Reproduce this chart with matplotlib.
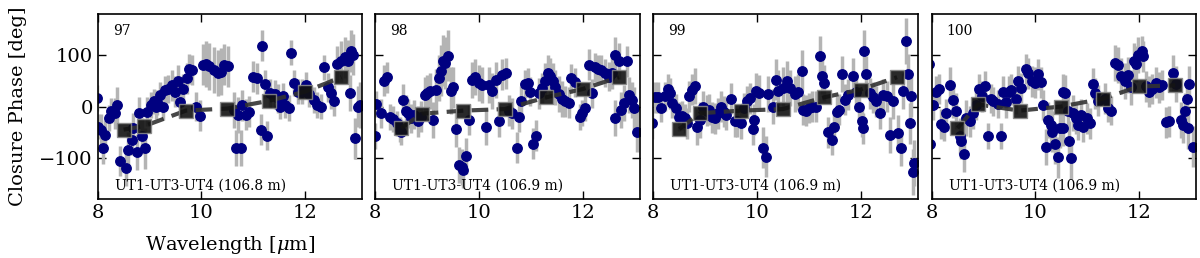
import matplotlib as mpl
mpl.use("Agg")
import matplotlib.pyplot as plt

# closure phases (deg) vs wavelength (um)
wave_97 = [7.98, 8.01, 8.06, 8.11, 8.15, 8.22, 8.26, 8.33, 8.38, 8.43,
           8.54, 8.59, 8.66, 8.69, 8.75, 8.80, 8.85, 8.91, 8.96, 9.03,
           9.08, 9.12, 9.15, 9.20, 9.26, 9.30, 9.36, 9.44, 9.50, 9.54,
           9.59, 9.65, 9.72, 9.77, 9.81, 9.90, 9.98, 10.03, 10.09, 10.15,
           10.24, 10.32, 10.38, 10.44, 10.51, 10.63, 10.70, 10.66, 10.76, 10.79,
           10.86, 10.92, 10.99, 11.07, 11.14, 11.17, 11.23, 11.27, 11.33, 11.41,
           11.47, 11.52, 11.57, 11.61, 11.68, 11.73, 11.78, 11.86, 11.94, 12.02,
           12.08, 12.17, 12.23, 12.30, 12.37, 12.44, 12.50, 12.55, 12.62, 12.70,
           12.76, 12.83, 12.88, 12.92, 12.86, 12.97, 13.01, 13.05]
cp_97 = [17, -39, -45, -81, -55, -23, -8, -13, 3, -106,
         -119, -84, -65, -42, -88, -12, -58, -81, -10, 3,
         10, 0, 8, 23, -1, 32, 34, 41, 29, 50,
         8, 34, 55, 73, 71, 0, -18, 81, 82, 78,
         71, 65, 68, 81, 78, -6, -16, -80, -80, 2,
         -16, -10, 58, 55, -45, 118, 44, -57, 26, 24,
         16, 0, 20, 3, -3, 105, 46, 29, 29, 42,
         24, 13, 3, 0, 76, 37, 26, 11, 83, 88,
         96, 89, 108, 101, 26, -62, 0, 3]
err_97 = [25, 25, 30, 30, 28, 25, 25, 30, 35, 30,
          35, 35, 30, 30, 35, 30, 35, 40, 28, 25,
          25, 25, 25, 25, 25, 28, 28, 30, 30, 30,
          30, 30, 30, 30, 30, 28, 30, 40, 45, 45,
          45, 45, 45, 40, 40, 35, 35, 35, 35, 30,
          30, 30, 30, 30, 30, 30, 28, 28, 28, 28,
          28, 25, 25, 25, 25, 25, 25, 25, 25, 25,
          25, 25, 25, 25, 25, 28, 30, 30, 35, 40,
          40, 40, 40, 40, 35, 40, 40, 45]

wave_98 = [8.01, 7.99, 8.11, 8.17, 8.23, 8.28, 8.35, 8.41, 8.48, 8.50,
           8.54, 8.59, 8.64, 8.69, 8.75, 8.83, 8.88, 8.95, 8.99, 9.06,
           9.11, 9.17, 9.22, 9.27, 9.30, 9.35, 9.40, 9.45, 9.50, 9.55,
           9.62, 9.67, 9.70, 9.75, 9.80, 9.86, 9.93, 9.99, 10.06, 10.14,
           10.19, 10.25, 10.32, 10.38, 10.45, 10.52, 10.57, 10.63, 10.73, 10.77,
           10.81, 10.88, 10.94, 10.99, 11.05, 11.10, 11.15, 11.21, 11.28, 11.33,
           11.37, 11.42, 11.47, 11.54, 11.60, 11.66, 11.73, 11.78, 11.86, 11.94,
           11.99, 12.05, 12.12, 12.18, 12.23, 12.30, 12.36, 12.43, 12.50, 12.57,
           12.63, 12.70, 12.62, 12.73, 12.79, 12.86, 12.90, 12.95, 12.99, 13.04]
cp_98 = [5, -57, -13, 50, 57, -20, -24, -33, -45, -49,
         13, -8, -13, -23, -16, -29, -20, 23, 26, 31,
         -26, 33, 55, 70, 89, 85, 99, 31, 37, -44,
         -114, -117, -124, -96, -26, 52, 58, 45, 42, -39,
         41, 31, 52, -29, 62, 65, -8, -13, -80, -21,
         11, 44, 46, 29, -72, -57, 26, 36, 50, 65,
         59, 49, 37, 24, 15, 10, 7, 55, 47, -21,
         -13, -3, 81, 26, 76, 73, 72, 65, 58, 65,
         101, 89, -23, -6, 7, 88, 23, 13, -3, -49]
err_98 = [25, 25, 28, 30, 30, 25, 25, 25, 25, 25,
          30, 30, 28, 28, 28, 30, 30, 35, 35, 35,
          35, 40, 45, 50, 50, 50, 50, 45, 40, 35,
          35, 35, 35, 35, 30, 35, 35, 35, 35, 35,
          35, 35, 35, 30, 30, 30, 30, 30, 30, 28,
          28, 28, 28, 28, 30, 30, 30, 30, 35, 35,
          35, 35, 35, 35, 35, 30, 30, 28, 28, 25,
          25, 25, 30, 28, 28, 28, 28, 28, 28, 30,
          35, 35, 35, 35, 35, 30, 35, 35, 40, 40]

wave_99 = [7.98, 8.03, 8.09, 8.15, 8.22, 8.28, 8.33, 8.37, 8.43, 8.50,
           8.55, 8.61, 8.65, 8.69, 8.74, 8.80, 8.85, 8.91, 8.96, 9.03,
           9.08, 9.14, 9.19, 9.25, 9.30, 9.36, 9.41, 9.50, 9.57, 9.62,
           9.70, 9.75, 9.80, 9.86, 9.92, 9.94, 9.98, 10.04, 10.12, 10.17,
           10.22, 10.30, 10.37, 10.41, 10.50, 10.57, 10.63, 10.73, 10.79, 10.86,
           10.89, 10.94, 11.00, 11.06, 11.14, 11.21, 11.26, 11.30, 11.37, 11.44,
           11.48, 11.54, 11.59, 11.63, 11.70, 11.76, 11.85, 11.91, 11.97, 12.02,
           12.04, 12.06, 12.10, 12.17, 12.23, 12.30, 12.37, 12.43, 12.50, 12.57,
           12.63, 12.71, 12.77, 12.82, 12.88, 12.92, 12.97, 12.95, 13.02, 13.01]
cp_99 = [-33, 18, 18, -2, 20, 34, 26, 7, -3, -20,
         -18, -23, -33, 20, 33, 39, -39, -26, 0, -8,
         -6, -21, -23, -13, 0, -10, -16, 15, -29, -29,
         -33, -3, 10, 16, -44, -26, 31, 26, -80, -98,
         24, 0, 52, 31, 36, 49, 36, 24, 29, 70,
         -6, -8, -3, 0, 0, 98, 59, 46, -50, -65,
         -39, -10, -6, 63, 13, 23, 60, 29, 0, -29,
         -42, 108, 63, 26, 18, 10, -13, 23, 20, -55,
         11, -52, -81, 31, 128, 63, 20, -33, -110, -128]
err_99 = [30, 30, 30, 28, 28, 30, 30, 30, 28, 28,
          28, 28, 30, 30, 30, 35, 35, 35, 30, 30,
          30, 30, 30, 30, 30, 30, 30, 30, 30, 30,
          30, 30, 30, 30, 30, 30, 35, 35, 40, 40,
          35, 35, 40, 40, 40, 40, 35, 35, 35, 40,
          30, 30, 30, 30, 30, 40, 35, 35, 30, 30,
          30, 30, 30, 35, 30, 30, 35, 30, 30, 30,
          30, 40, 35, 30, 30, 30, 30, 30, 30, 35,
          35, 35, 35, 35, 45, 40, 40, 40, 45, 45]

wave_100 = [7.96, 7.98, 8.03, 8.09, 8.15, 8.19, 8.25, 8.28, 8.35, 8.41,
            8.48, 8.54, 8.57, 8.63, 8.67, 8.74, 8.80, 8.85, 8.91, 8.97,
            9.04, 9.09, 9.14, 9.19, 9.28, 9.34, 9.38, 9.44, 9.50, 9.54,
            9.62, 9.67, 9.73, 9.82, 9.86, 9.94, 9.99, 10.06, 10.11, 10.15,
            10.20, 10.24, 10.30, 10.33, 10.38, 10.43, 10.48, 10.53, 10.57, 10.54,
            10.63, 10.66, 10.69, 10.73, 10.79, 10.82, 10.88, 10.92, 10.99, 11.05,
            11.12, 11.15, 11.21, 11.34, 11.41, 11.47, 11.54, 11.60, 11.66, 11.73,
            11.78, 11.85, 11.90, 11.94, 11.99, 12.05, 12.08, 12.13, 12.19, 12.25,
            12.32, 12.39, 12.44, 12.52, 12.58, 12.66, 12.72, 12.81, 12.84, 12.92,
            12.95, 12.97, 12.88, 13.05]
cp_100 = [83, -72, 3, 29, 34, -34, -39, -13, 41, 13,
          -8, -58, -68, -93, -23, -29, -13, 3, 34, 20,
          39, -57, 15, 10, 5, -57, 29, 8, 29, 33,
          15, 49, 36, 73, 65, 49, 46, 63, 47, 3,
          -78, -26, -36, -49, -72, -99, -41, 29, 26, -42,
          -8, -68, -101, -13, -23, -36, -16, -39, -23, -33,
          44, 26, 11, 15, -3, -8, 85, 80, 60, 49,
          62, 37, 89, 82, 101, 108, 98, 39, 29, 34,
          46, 37, 42, -31, -29, 65, 44, -26, -36, 15,
          -42, 44, -8, -78]
err_100 = [30, 30, 30, 30, 30, 30, 28, 28, 35, 35,
           35, 35, 35, 35, 35, 30, 30, 30, 30, 30,
           30, 25, 28, 28, 28, 25, 30, 30, 30, 30,
           30, 30, 30, 30, 30, 30, 30, 30, 30, 30,
           35, 35, 35, 40, 40, 40, 40, 35, 35, 35,
           35, 40, 40, 35, 30, 30, 30, 30, 30, 30,
           30, 30, 30, 30, 28, 28, 35, 35, 35, 35,
           35, 35, 35, 35, 35, 30, 30, 30, 30, 30,
           30, 30, 30, 30, 30, 35, 35, 35, 35, 35,
           40, 35, 35, 40]

# binned model points (black squares)
bin_wave = [8.5, 8.9, 9.7, 10.5, 11.3, 12.0, 12.7]
bin_97 = [-45, -38, -8, -4, 11, 29, 57]
bin_98 = [-42, -14, -8, -5, 18, 34, 57]
bin_99 = [-44, -13, -8, -5, 18, 33, 57]
bin_100 = [-42, 4, -8, 0, 15, 39, 41]

labels = ["97", "98", "99", "100"]
baselines = ["UT1-UT3-UT4 (106.8 m)", "UT1-UT3-UT4 (106.9 m)",
             "UT1-UT3-UT4 (106.9 m)", "UT1-UT3-UT4 (106.9 m)"]
panels = [(wave_97, cp_97, err_97, bin_97),
          (wave_98, cp_98, err_98, bin_98),
          (wave_99, cp_99, err_99, bin_99),
          (wave_100, cp_100, err_100, bin_100)]

plt.rcParams["font.family"] = "DejaVu Serif"
plt.rcParams["mathtext.fontset"] = "dejavuserif"

fig = plt.figure(figsize=(12, 2.58), dpi=100)
lefts = [97.7, 375.3, 653.3, 931.5]

for i, (w, cp, err, b) in enumerate(panels):
    ax = fig.add_axes([lefts[i] / 1200, 1 - 199 / 258, 264.5 / 1200, 185 / 258])
    ax.errorbar(w, cp, yerr=err, fmt="o", color="#000080", ms=6.8,
                ecolor="#b4b4b4", elinewidth=2.5, zorder=2)
    ax.plot(bin_wave, b, "--s", color="#333333", lw=3, dashes=(4, 2),
            ms=10.5, mfc="#111111", mec="#888888", alpha=0.9, zorder=3)
    ax.set_xlim(8, 13.1)
    ax.set_ylim(-180, 180)
    ax.set_xticks([8, 10, 12])
    ax.set_yticks([-100, 0, 100])
    ax.tick_params(direction="in", top=True, right=True, length=6,
                   labelsize=14, width=1)
    for s in ax.spines.values():
        s.set_linewidth(1.2)
    ax.text(0.057, 0.91, labels[i], transform=ax.transAxes, fontsize=10,
            va="center", ha="left")
    ax.text(0.065, 0.072, baselines[i], transform=ax.transAxes, fontsize=10,
            va="center", ha="left")
    if i == 0:
        ax.set_ylabel("Closure Phase [deg]", fontsize=14, labelpad=9)
        ax.set_xlabel(r"Wavelength [$\mu$m]", fontsize=14, labelpad=9)
    else:
        ax.set_yticklabels([])

fig.savefig("out.png", dpi=100)
